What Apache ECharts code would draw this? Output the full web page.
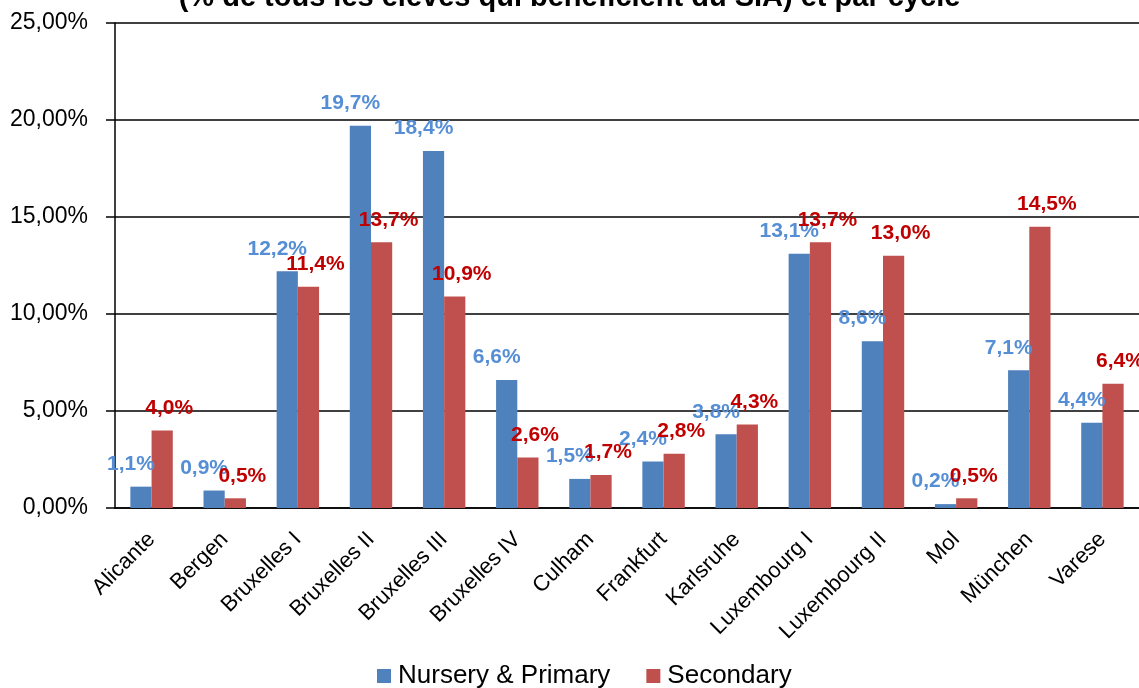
<!DOCTYPE html>
<html>
<head>
<meta charset="utf-8">
<script src="https://cdn.jsdelivr.net/npm/echarts@6/dist/echarts.min.js"></script>
<style>
  html, body { margin: 0; padding: 0; background: #fff; }
  #chart { width: 1139px; height: 688px; }
</style>
</head>
<body>
<div id="chart"></div>
<script>
// écoles
let schools = ['Alicante', 'Bergen', 'Bruxelles I', 'Bruxelles II', 'Bruxelles III', 'Bruxelles IV', 'Culham',
    'Frankfurt', 'Karlsruhe', 'Luxembourg I', 'Luxembourg II', 'Mol', 'München', 'Varese'];
let nurseryPrimary = [1.1, 0.9, 12.2, 19.7, 18.4, 6.6, 1.5, 2.4, 3.8, 13.1, 8.6, 0.2, 7.1, 4.4];
let secondary = [4.0, 0.5, 11.4, 13.7, 10.9, 2.6, 1.7, 2.8, 4.3, 13.7, 13.0, 0.5, 14.5, 6.4];
let titleText = '(% de tous les élèves qui bénéficient du SIA) et par cycle';

let font = 'Arial, "Liberation Sans", sans-serif';
let fmt = function (v) { return v.toFixed(1).replace('.', ',') + '%'; };

let myChart = echarts.init(document.getElementById('chart'));
let option = {
    animation: false,
    title: {
        text: titleText,
        left: 'center',
        top: -22,
        textStyle: {fontFamily: font, fontSize: 29, fontWeight: 'bold', color: '#000'}
    },
    legend: {
        data: ['Nursery & Primary', 'Secondary'],
        bottom: -6,
        left: 372,
        itemWidth: 14,
        itemHeight: 14,
        itemGap: 36,
        icon: 'rect',
        textStyle: {fontFamily: font, fontSize: 26, color: '#000', padding: [0, 0, 0, 2]}
    },
    grid: {left: 115, top: 23, width: 1028, bottom: 180, containLabel: false},
    xAxis: {
        type: 'category',
        data: schools,
        axisLine: {lineStyle: {color: '#000', width: 1.5}},
        axisTick: {length: 7, lineStyle: {color: '#000', width: 1.5}},
        axisLabel: {rotate: 45, interval: 0, margin: 28, fontFamily: font, fontSize: 22, color: '#000'}
    },
    yAxis: {
        type: 'value',
        min: 0,
        max: 25,
        interval: 5,
        axisLine: {show: true, lineStyle: {color: '#000', width: 1.5}},
        axisTick: {show: true, length: 9, lineStyle: {color: '#000', width: 1.5}},
        splitLine: {lineStyle: {color: '#000', width: 1.5}},
        axisLabel: {
            margin: 27,
            fontFamily: font, fontSize: 23, color: '#000',
            formatter: function (v) { return v.toFixed(2).replace('.', ',') + '%'; }
        }
    },
    series: [
        {
            name: 'Nursery & Primary',
            type: 'bar',
            data: nurseryPrimary,
            barGap: '0%',
            barCategoryGap: '42%',
            itemStyle: {color: '#4F81BD'},
            label: {
                show: true, position: 'top', offset: [-10, -7],
                fontFamily: font, fontSize: 21, fontWeight: 'bold', color: '#558ED5',
                formatter: function (p) { return fmt(p.value); }
            }
        },
        {
            name: 'Secondary',
            type: 'bar',
            data: secondary,
            barGap: '0%',
            barCategoryGap: '42%',
            itemStyle: {color: '#C0504D'},
            label: {
                show: true, position: 'top', offset: [7, -7],
                fontFamily: font, fontSize: 21, fontWeight: 'bold', color: '#C00000',
                formatter: function (p) { return fmt(p.value); }
            }
        }
    ]
};
myChart.setOption(option);
</script>
</body>
</html>
